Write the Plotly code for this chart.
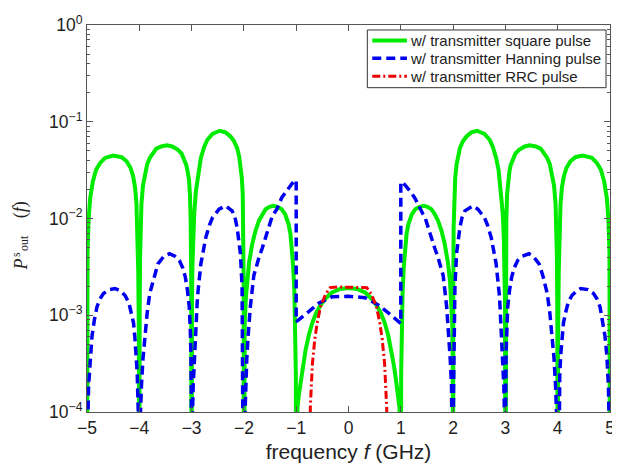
import plotly.graph_objects as go

# ---------------- data ----------------
ZERO = 1e-6  # stand-in for spectral nulls (below the plotted range)

f_square = [
    -5.0, -4.995, -4.99, -4.97, -4.94, -4.886, -4.824, -4.748, -4.654, -4.5, -4.338, -4.243, -4.167, -4.118, -4.08, -4.054, -4.035, -4.02, -4.008, -4.0,
    -3.993, -3.985, -3.97, -3.959, -3.93, -3.896, -3.85, -3.80, -3.74, -3.675, -3.58, -3.474, -3.37, -3.266, -3.19, -3.14, -3.10, -3.077, -3.05, -3.032, -3.018, -3.008, -3.0,
    -2.993, -2.985, -2.97, -2.95, -2.918, -2.87, -2.823, -2.76, -2.698, -2.60, -2.464, -2.35, -2.256, -2.19, -2.13, -2.09, -2.066, -2.04, -2.022, -2.01, -2.004, -2.0,
    -1.993, -1.985, -1.96, -1.94, -1.90, -1.84, -1.78, -1.71, -1.645, -1.585, -1.51, -1.436, -1.36, -1.277, -1.21, -1.146, -1.11, -1.083, -1.057, -1.035, -1.018, -1.007, -1.0,
    -0.99, -0.975, -0.95, -0.915, -0.87, -0.82, -0.76, -0.695, -0.62, -0.536, -0.43, -0.316, -0.16, 0.0,
    0.16, 0.316, 0.43, 0.536, 0.62, 0.695, 0.76, 0.82, 0.87, 0.915, 0.95, 0.975, 0.99,
    1.0, 1.007, 1.018, 1.035, 1.057, 1.083, 1.11, 1.146, 1.21, 1.277, 1.36, 1.436, 1.51, 1.585, 1.645, 1.71, 1.78, 1.84, 1.90, 1.94, 1.96, 1.985, 1.993, 2.0,
    2.004, 2.01, 2.022, 2.04, 2.066, 2.09, 2.13, 2.19, 2.256, 2.35, 2.458, 2.60, 2.698, 2.76, 2.823, 2.87, 2.918, 2.95, 2.97, 2.985, 2.993, 3.0,
    3.008, 3.018, 3.032, 3.05, 3.077, 3.10, 3.14, 3.19, 3.266, 3.37, 3.467, 3.58, 3.675, 3.74, 3.80, 3.85, 3.896, 3.93, 3.959, 3.97, 3.985, 3.993, 4.0,
    4.008, 4.02, 4.035, 4.054, 4.08, 4.118, 4.167, 4.243, 4.338, 4.476, 4.654, 4.748, 4.824, 4.886, 4.94, 4.97, 4.99, 4.995, 5.0,
]
p_square = [
    ZERO, 0.0025, 0.00447, 0.00955, 0.0162, 0.0245, 0.0321, 0.0375, 0.0423, 0.0447, 0.0430, 0.0391, 0.0333, 0.0274, 0.0208, 0.0141, 0.00748, 0.00282, 0.00063, ZERO,
    0.0010, 0.0040, 0.0089, 0.0141, 0.0219, 0.0285, 0.0363, 0.0423, 0.0479, 0.0527, 0.0556, 0.0570, 0.0555, 0.0515, 0.0468, 0.0406, 0.0355, 0.0308, 0.0251, 0.0178, 0.0095, 0.0025, ZERO,
    0.00126, 0.00316, 0.0063, 0.0112, 0.0191, 0.0316, 0.0423, 0.0550, 0.0652, 0.0750, 0.0807, 0.0776, 0.0705, 0.0631, 0.0535, 0.0437, 0.0361, 0.0263, 0.0178, 0.0079, 0.0020, ZERO,
    0.000316, 0.00079, 0.00158, 0.00229, 0.00355, 0.00546, 0.00741, 0.00955, 0.0112, 0.01247, 0.0132, 0.0135, 0.0132, 0.01247, 0.0110, 0.00877, 0.00692, 0.00505, 0.00316, 0.00178, 0.00079, 0.00025, ZERO,
    5e-5, 0.000112, 0.00015, 0.0002, 0.0003, 0.00044, 0.000617, 0.000826, 0.00105, 0.00127, 0.00151, 0.00172, 0.00187, 0.00191,
    0.00187, 0.00172, 0.00151, 0.00127, 0.00105, 0.000826, 0.000617, 0.00044, 0.0003, 0.0002, 0.00015, 0.000112, 5e-5,
    ZERO, 0.00025, 0.00079, 0.00178, 0.00316, 0.00505, 0.00692, 0.00877, 0.0110, 0.01247, 0.0132, 0.0135, 0.0132, 0.01247, 0.0112, 0.00955, 0.00741, 0.00546, 0.00355, 0.00229, 0.00158, 0.00079, 0.000316, ZERO,
    0.0020, 0.0079, 0.0178, 0.0263, 0.0361, 0.0437, 0.0535, 0.0631, 0.0705, 0.0776, 0.0807, 0.0750, 0.0652, 0.0550, 0.0423, 0.0316, 0.0191, 0.0112, 0.0063, 0.00316, 0.00126, ZERO,
    0.0025, 0.0095, 0.0178, 0.0251, 0.0308, 0.0355, 0.0406, 0.0468, 0.0515, 0.0555, 0.0570, 0.0556, 0.0527, 0.0479, 0.0423, 0.0363, 0.0285, 0.0219, 0.0141, 0.0089, 0.0040, 0.0010, ZERO,
    0.00063, 0.00282, 0.00748, 0.0141, 0.0208, 0.0274, 0.0333, 0.0391, 0.0430, 0.0447, 0.0423, 0.0375, 0.0321, 0.0245, 0.0162, 0.00955, 0.00447, 0.0025, ZERO,
]

f_hanning = [
    -5.0, -4.99, -4.97, -4.94, -4.905, -4.86, -4.81, -4.75, -4.686, -4.58, -4.464, -4.37, -4.275, -4.20, -4.148, -4.11, -4.086, -4.06, -4.04, -4.02, -4.0,
    -3.99, -3.975, -3.959, -3.93, -3.896, -3.85, -3.80, -3.72, -3.644, -3.53, -3.423, -3.32, -3.234, -3.17, -3.12, -3.08, -3.045, -3.025, -3.013, -3.005, -3.0,
    -2.99, -2.97, -2.95, -2.93, -2.888, -2.823, -2.728, -2.66, -2.60, -2.475, -2.35, -2.225, -2.17, -2.13, -2.095, -2.066, -2.035, -2.02, -2.008, -2.0,
    -1.99, -1.97, -1.945, -1.92, -1.877, -1.81, -1.76, -1.71, -1.645, -1.585, -1.52, -1.467, -1.42, -1.37, -1.277, -1.21, -1.146, -1.08, -1.02, -1.0,
    -1.0, -0.96, -0.76, -0.57, -0.316, 0.0, 0.316, 0.568, 0.76, 0.94, 1.0,
    1.0, 1.02, 1.08, 1.146, 1.21, 1.277, 1.37, 1.42, 1.467, 1.52, 1.585, 1.645, 1.71, 1.76, 1.81, 1.877, 1.92, 1.945, 1.97, 1.99, 2.0,
    2.008, 2.02, 2.035, 2.066, 2.095, 2.13, 2.17, 2.225, 2.38, 2.475, 2.60, 2.66, 2.728, 2.823, 2.888, 2.93, 2.95, 2.97, 2.99, 3.0,
    3.005, 3.013, 3.025, 3.045, 3.08, 3.12, 3.17, 3.234, 3.32, 3.45, 3.53, 3.644, 3.72, 3.80, 3.85, 3.896, 3.93, 3.959, 3.975, 3.99, 4.0,
    4.02, 4.04, 4.06, 4.086, 4.11, 4.148, 4.20, 4.275, 4.37, 4.44, 4.58, 4.686, 4.75, 4.81, 4.86, 4.905, 4.94, 4.97, 4.99, 5.0,
]
p_hanning = [
    ZERO, 5e-5, 0.000185, 0.00038, 0.000603, 0.00089, 0.00122, 0.00148, 0.00168, 0.00184, 0.00189, 0.00180, 0.00161, 0.00135, 0.00105, 0.00083, 0.000603, 0.000398, 0.000254, 0.0001, ZERO,
    6.3e-5, 0.000126, 0.000185, 0.000355, 0.000603, 0.00105, 0.00168, 0.00251, 0.0034, 0.00407, 0.00432, 0.00407, 0.00368, 0.00309, 0.00248, 0.00182, 0.00122, 0.000708, 0.000407, 0.000126, ZERO,
    6.3e-5, 0.000185, 0.000355, 0.000603, 0.00155, 0.0034, 0.00638, 0.0085, 0.0102, 0.01247, 0.0135, 0.0120, 0.0102, 0.0081, 0.00603, 0.00432, 0.00196, 0.000603, 0.000158, ZERO,
    6.3e-5, 0.000185, 0.000355, 0.000603, 0.00122, 0.00258, 0.00324, 0.00398, 0.00501, 0.00638, 0.00813, 0.0102, 0.01135, 0.01247, 0.0164, 0.0186, 0.0208, 0.0229, 0.0248, 0.0249,
    0.00086, 0.00089, 0.00109, 0.00133, 0.00155, 0.00157, 0.00152, 0.00128, 0.00106, 0.00086, 0.00082,
    0.0238, 0.0237, 0.0222, 0.0202, 0.0182, 0.0160, 0.0124, 0.0112, 0.0101, 0.0081, 0.00632, 0.00501, 0.00398, 0.00324, 0.00258, 0.00122, 0.000603, 0.000355, 0.000185, 6.3e-5, ZERO,
    0.000158, 0.000603, 0.00196, 0.00432, 0.00603, 0.0081, 0.0102, 0.0120, 0.0135, 0.01247, 0.0102, 0.0085, 0.00638, 0.0034, 0.00155, 0.000603, 0.000355, 0.000185, 6.3e-5, ZERO,
    0.000126, 0.000407, 0.000708, 0.00122, 0.00182, 0.00248, 0.00309, 0.00368, 0.00407, 0.00432, 0.00407, 0.0034, 0.00251, 0.00168, 0.00105, 0.000603, 0.000355, 0.000185, 0.000126, 6.3e-5, ZERO,
    0.0001, 0.000254, 0.000398, 0.000603, 0.00083, 0.00105, 0.00135, 0.00161, 0.00180, 0.00189, 0.00184, 0.00168, 0.00148, 0.00122, 0.00089, 0.000603, 0.00038, 0.000185, 5e-5, ZERO,
]

f_rrc = [-0.76, -0.73, -0.69, -0.645, -0.60, -0.536, -0.44, -0.35, -0.2, 0.0,
         0.2, 0.35, 0.44, 0.536, 0.60, 0.645, 0.69, 0.73, 0.76]
p_rrc = [ZERO, 0.000112, 0.000316, 0.000562, 0.000826, 0.00122, 0.00164, 0.00193, 0.00196, 0.00196,
         0.00196, 0.00193, 0.00164, 0.00122, 0.000826, 0.000562, 0.000316, 0.000112, ZERO]

series_names = ["w/ transmitter square pulse",
                "w/ transmitter Hanning pulse",
                "w/ transmitter RRC pulse"]

x_ticks = [-5, -4, -3, -2, -1, 0, 1, 2, 3, 4, 5]
x_tick_text = ["\u22125", "\u22124", "\u22123", "\u22122", "\u22121", "0", "1", "2", "3", "4", "5"]
y_ticks = [1e-4, 1e-3, 1e-2, 1e-1, 1]
y_tick_text = ["10<sup>\u22124</sup>", "10<sup>\u22123</sup>", "10<sup>\u22122</sup>",
               "10<sup>\u22121</sup>", "10<sup>0</sup>"]
y_minor = [m * 10.0 ** e for e in (-4, -3, -2, -1) for m in range(2, 10)]

# ---------------- styling ----------------
colors = ["rgb(0,235,0)", "rgb(0,0,240)", "rgb(240,0,0)"]
widths = [4, 3.5, 3]
dashes = ["solid", "9px,5px", "8px,3px,2px,3px"]

# the page body has an 8px margin, so the figure is sized/positioned to compensate
OFF = 8
W, H = 612, 463
L, R, T, B = 79, 5, 15, 59
pw, ph = W - L - R, H - T - B


def px(xpage):
    return (xpage - OFF - L) / pw


def py(ypage):
    return 1 - (ypage - OFF - T) / ph


fig = go.Figure()
for fx, fy, nm, c, w, d in zip([f_square, f_hanning, f_rrc], [p_square, p_hanning, p_rrc],
                               series_names, colors, widths, dashes):
    fig.add_trace(go.Scatter(x=fx, y=fy, mode="lines", name=nm, showlegend=False,
                             line=dict(color=c, width=w, dash=d)))

axis_col = "#555555"
txt_col = "#222222"
fig.update_xaxes(range=[-5, 5], tickvals=x_ticks, ticktext=x_tick_text,
                 ticks="inside", ticklen=6, tickcolor=axis_col,
                 showline=True, linecolor=axis_col, linewidth=1, mirror="ticks",
                 showgrid=False, zeroline=False,
                 tickfont=dict(family="Liberation Sans", size=17.5, color=txt_col),
                 title=dict(text="frequency <i>f</i> (GHz)",
                            font=dict(family="Liberation Sans", size=21, color=txt_col),
                            standoff=7))
fig.update_yaxes(type="log", range=[-4, 0], tickvals=y_ticks, ticktext=y_tick_text,
                 ticks="inside", ticklen=6, tickcolor=axis_col,
                 minor=dict(tickvals=y_minor, ticks="inside", ticklen=3, tickcolor=axis_col, showgrid=False),
                 showline=True, linecolor=axis_col, linewidth=1, mirror="ticks",
                 showgrid=False, zeroline=False,
                 tickfont=dict(family="Liberation Sans", size=17.5, color=txt_col))

# y-axis label  P^s_out (f)  (stacked super/subscript, rotated)
serif = "Liberation Serif"
ylab = [
    dict(text="<i>P</i>", x=20, y=264, size=18),
    dict(text="s", x=15.5, y=254, size=12),
    dict(text="out", x=23.5, y=242, size=12),
    dict(text="(<i>f</i>)", x=19.5, y=209, size=18),
]
for a in ylab:
    fig.add_annotation(text=a["text"], x=px(a["x"]), y=py(a["y"]), xref="paper", yref="paper",
                       xanchor="center", yanchor="middle", showarrow=False, textangle=-90,
                       borderpad=0,
                       font=dict(family=serif, size=a["size"], color=txt_col))

# legend box (MATLAB style, tight rows)
box = dict(x0=370, y0=28, x1=611, y1=86)
fig.add_shape(type="rect", xref="paper", yref="paper",
              x0=px(box["x0"]), x1=px(box["x1"]), y0=py(box["y1"]), y1=py(box["y0"]),
              line=dict(color="#333333", width=1), fillcolor="white", layer="above")
rows = [38.5, 56.5, 74.5]
for ry, nm, c, w, d in zip(rows, series_names, colors, widths, dashes):
    fig.add_shape(type="line", xref="paper", yref="paper",
                  x0=px(375), x1=px(410), y0=py(ry), y1=py(ry),
                  line=dict(color=c, width=w, dash=d), layer="above")
    fig.add_annotation(text=nm, x=px(412), y=py(ry), xref="paper", yref="paper",
                       xanchor="left", yanchor="middle", showarrow=False, borderpad=0,
                       font=dict(family="Liberation Sans", size=15, color=txt_col))

fig.update_layout(
    width=W, height=H,
    margin=dict(l=L, r=R, t=T, b=B),
    paper_bgcolor="white", plot_bgcolor="white",
    font=dict(family="Liberation Sans", color=txt_col),
    showlegend=False,
)

fig.write_html("out.html")
